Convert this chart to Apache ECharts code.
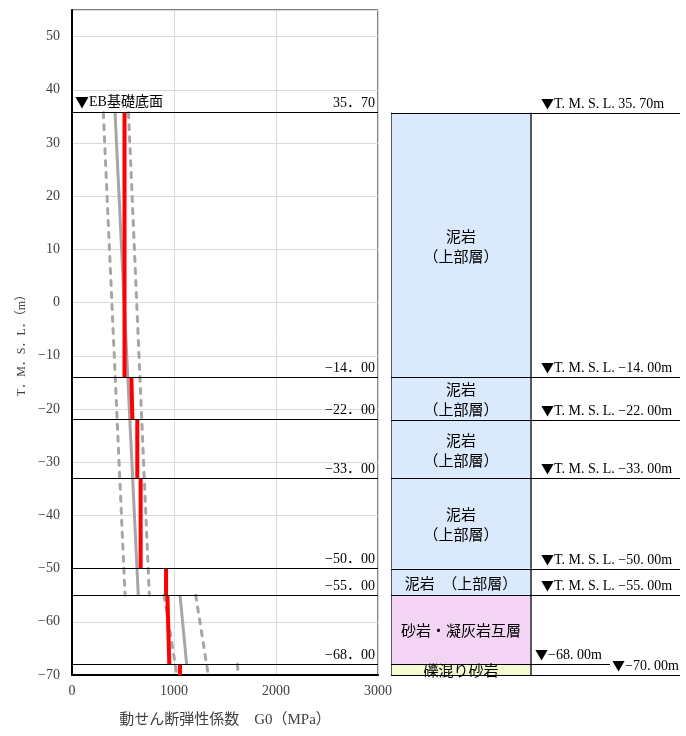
<!DOCTYPE html>
<html><head><meta charset="utf-8">
<script src="https://cdn.jsdelivr.net/npm/echarts@6/dist/echarts.min.js"></script>
<style>html,body{margin:0;padding:0;background:#fff}#chart{width:686px;height:736px}</style>
</head><body><div id="chart"></div>
<script>
// ---- data ----
const boundaryLevels = [35.7, -14, -22, -33, -50, -55, -68, -70];
const boundaryLabels = ['35．70', '−14．00', '−22．00', '−33．00', '−50．00', '−55．00', '−68．00'];
const elevationLabels = ['T. M. S. L. 35. 70m', 'T. M. S. L. −14. 00m', 'T. M. S. L. −22. 00m', 'T. M. S. L. −33. 00m',
  'T. M. S. L. −50. 00m', 'T. M. S. L. −55. 00m', '−68. 00m', '−70. 00m'];
const foundationLabel = 'EB基礎底面';
const layerTops = [35.7, -14, -22, -33, -50, -55, -68];
const layerBottoms = [-14, -22, -33, -50, -55, -68, -70];
const layerNames = ['泥岩\n（上部層）', '泥岩\n（上部層）', '泥岩\n（上部層）', '泥岩\n（上部層）', '泥岩　（上部層）', '砂岩・凝灰岩互層', '礫混り砂岩'];
const layerRock = ['mud', 'mud', 'mud', 'mud', 'mud', 'sand', 'gravel'];
// measured G0 per layer: [value at layer top, value at layer bottom] (MPa)
const measuredG0 = [[515, 515], [582, 592], [640, 640], [673, 673], [922, 922], [935, 954], [1059, 1059]];
// design G0 lines: segments of [G0, elevation]
const meanSegments = [[[422, 35.7], [650, -55]], [[1059, -55], [1124, -68]]];
const lowerSegments = [[[307, 35.7], [520, -55]], [[902, -55], [1029, -70]]];
const upperSegments = [[[554, 35.7], [758, -55]], [[1213, -55], [1336, -70]], [[1622, -68], [1630, -70]]];
const xTicks = [0, 1000, 2000, 3000];

// ---- styles ----
const rockColor = { mud: '#dbe9fc', sand: '#f4d4f4', gravel: '#f6fad2' };
const SERIF = "'Liberation Serif', 'Noto Sans CJK JP'";
const JP = "'Noto Sans CJK JP'";

const chart = echarts.init(document.getElementById('chart'), null, { renderer: 'canvas' });

function segSeries(segments, style) {
  return segments.map(seg => ({
    type: 'line', xAxisIndex: 0, yAxisIndex: 0, data: seg, symbol: 'none', silent: true,
    lineStyle: style, z: 3
  }));
}

const series = [];
series.push(...segSeries(lowerSegments, { color: '#a6a6a6', width: 3, type: [5, 7], cap: 'round' }));
series.push(...segSeries(upperSegments, { color: '#a6a6a6', width: 3, type: [5, 7], cap: 'round' }));
series.push(...segSeries(meanSegments, { color: '#a6a6a6', width: 3, type: 'solid' }));
measuredG0.forEach((g, i) => {
  series.push({
    type: 'line', xAxisIndex: 0, yAxisIndex: 0, symbol: 'none', silent: true, z: 4,
    data: [[g[0], layerTops[i]], [g[1], layerBottoms[i]]],
    lineStyle: { color: '#ff0000', width: 4 }
  });
});
const triRich = { t: { fontFamily: JP, fontSize: 14, color: '#000', padding: [0, 0, 2, 0] } };
// boundary lines with labels on the left plot
const mlData = boundaryLabels.map((t, i) => ({
  yAxis: boundaryLevels[i],
  label: { formatter: t, position: 'insideEndTop', distance: [3, 2] }
}));
mlData.push({ yAxis: boundaryLevels[0], label: { formatter: '{t|▼}' + foundationLabel, position: 'insideStartTop', distance: [3, 2], rich: triRich } });
series.push({
  type: 'line', xAxisIndex: 0, yAxisIndex: 0, data: [], silent: true,
  markLine: {
    silent: true, symbol: ['none', 'none'], animation: false,
    lineStyle: { color: '#000', width: 1, type: 'solid' },
    label: { fontSize: 14, color: '#000', fontFamily: SERIF },
    emphasis: { disabled: true },
    data: mlData
  }
});
// soil column
series.push({
  type: 'custom', xAxisIndex: 1, yAxisIndex: 1, silent: true, z: 2,
  data: layerTops.map((t, i) => [i]),
  renderItem: function (params, api) {
    const i = api.value(0);
    const x0 = params.coordSys.x;
    const y1 = api.coord([0, layerTops[i]])[1];
    const y2 = api.coord([0, layerBottoms[i]])[1];
    const w = 140;
    return {
      type: 'group', children: [
        { type: 'rect', shape: { x: x0, y: y1, width: w, height: y2 - y1 }, style: { fill: rockColor[layerRock[i]] } },
        { type: 'line', shape: { x1: x0 + 0.5, y1: y1, x2: x0 + 0.5, y2: y2 }, style: { stroke: '#595959', lineWidth: 1 } },
        { type: 'line', shape: { x1: x0 + w, y1: y1, x2: x0 + w, y2: y2 }, style: { stroke: '#595959', lineWidth: 2 } },
        { type: 'text', x: x0 + w / 2, y: (y1 + y2) / 2 + 1,
          style: { text: layerNames[i], fill: '#000', font: "15px " + JP, align: 'center', verticalAlign: 'middle', lineHeight: 20 } }
      ]
    };
  }
});
// boundaries and elevation labels on the right
series.push({
  type: 'custom', xAxisIndex: 1, yAxisIndex: 1, silent: true, z: 3,
  data: boundaryLevels.map((v, i) => [i]),
  renderItem: function (params, api) {
    const i = api.value(0);
    const x0 = params.coordSys.x;
    const W = params.coordSys.width;
    const y = Math.round(api.coord([0, boundaryLevels[i]])[1]) + 0.5;
    let lx1 = x0, lx2 = x0 + W, tx = x0 + 150;
    const n = boundaryLevels.length;
    if (i === n - 2) { lx2 = x0 + 219; tx = x0 + 144; }
    if (i === n - 1) { tx = x0 + 221; }
    return {
      type: 'group', children: [
        { type: 'line', shape: { x1: lx1, y1: y, x2: lx2, y2: y }, style: { stroke: '#000', lineWidth: 1 } },
        { type: 'text', x: tx, y: y - 4,
          style: { text: '▼', fill: '#000', font: "13px " + JP, align: 'left', verticalAlign: 'bottom' } },
        { type: 'text', x: tx + 13, y: y - 2,
          style: { text: elevationLabels[i], fill: '#000', font: "14px " + SERIF, align: 'left', verticalAlign: 'bottom' } }
      ]
    };
  }
});

const minusFmt = v => String(v).replace('-', '−');
const option = {
  animation: false,
  backgroundColor: '#fff',
  grid: [
    { left: 72, top: 10, width: 306, height: 665, show: true, borderColor: '#000', borderWidth: 1, backgroundColor: 'transparent' },
    { left: 391, top: 10, width: 289, height: 665 }
  ],
  xAxis: [
    {
      gridIndex: 0, type: 'value', min: xTicks[0], max: xTicks[xTicks.length - 1], interval: 1000,
      axisLine: { show: true, onZero: false, lineStyle: { color: '#000', width: 2 } },
      axisTick: { show: false },
      splitLine: { show: true, lineStyle: { color: '#d9d9d9', width: 1 } },
      axisLabel: { fontSize: 14, color: '#404040', fontFamily: SERIF, margin: 9, formatter: v => String(v) },
      name: '動せん断弾性係数　G0（MPa）', nameLocation: 'middle', nameGap: 38,
      nameTextStyle: { fontSize: 15, color: '#404040', fontFamily: SERIF }
    },
    { gridIndex: 1, type: 'value', min: 0, max: 1, show: false }
  ],
  yAxis: [
    {
      gridIndex: 0, type: 'value', min: -70, max: 55, interval: 10,
      axisLine: { show: true, onZero: false, lineStyle: { color: '#000', width: 2 } },
      axisTick: { show: false },
      splitLine: { show: true, lineStyle: { color: '#d9d9d9', width: 1 } },
      axisLabel: { fontSize: 14, color: '#404040', fontFamily: SERIF, margin: 12, showMaxLabel: false, formatter: minusFmt },
      name: 'T．M．S．L．（m）', nameLocation: 'middle', nameGap: 44,
      nameTextStyle: { fontSize: 12, color: '#404040', fontFamily: SERIF }
    },
    { gridIndex: 1, type: 'value', min: -70, max: 55, show: false }
  ],
  series: series
};
chart.setOption(option);
</script>
</body></html>
